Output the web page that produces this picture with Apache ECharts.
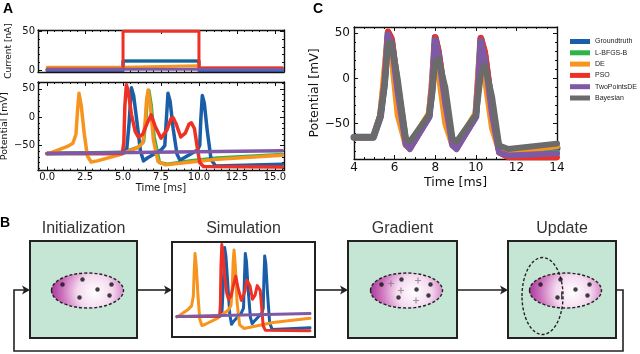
<!DOCTYPE html>
<html>
<head>
<meta charset="utf-8">
<script src="https://cdn.jsdelivr.net/npm/echarts@6/dist/echarts.min.js"></script>
<style>
html, body { margin: 0; padding: 0; background: #fff; }
#chart { width: 640px; height: 354px; }
</style>
</head>
<body>
<div id="chart"></div>
<script>
// ---- data ----
const methodNames = ['Groundtruth', 'L-BFGS-B', 'DE', 'PSO', 'TwoPointsDE', 'Bayesian']
const methodColors = ['#1b5ea8', '#2db34a', '#f7941d', '#ee3124', '#7e5aa6', '#6b6b6b']

// A: stimulus current [nA]
const curTime = [0, 5, 5, 10, 10, 15.5]
const curGroundtruth = [0, 0, 12, 12, 0, 0]
const curLbfgs = [0, 0, 12, 12, 0, 0]
const curDe = [4, 4, 6, 6, 3, 3]
const curPso = [1.5, 1.5, 50, 50, 3, 3]
const curTwoPoints = [1.5, 1.5, 1.5, 1.5, 1.5, 1.5]

// A: membrane potential [mV]
const aGroundtruthT = [0, 5.0, 5.25, 5.4, 5.55, 5.7, 5.9, 6.15, 6.35, 6.6, 7.5, 7.75, 7.85, 7.96, 8.1, 8.3, 8.55, 8.75, 9.0, 9.9, 10.05, 10.12, 10.22, 10.35, 10.55, 10.8, 11.1, 15.5]
const aGroundtruthV = [-64, -64, -55, -10, 52, 38, -5, -60, -77, -72, -58, -50, -5, 42, 28, -20, -65, -76, -72, -58, -50, -5, 38, 25, -25, -75, -86, -83]
const aLbfgsT = [0, 5.0, 6.0, 6.35, 6.5, 6.6, 6.7, 6.85, 7.05, 7.4, 7.9, 9.5, 11.2, 15.5]
const aLbfgsV = [-64, -62, -53, -43, -5, 35, 47, 22, -35, -80, -83, -77, -72, -66]
const aDeT = [0, 0.7, 1.3, 1.7, 1.9, 2.0, 2.1, 2.25, 2.45, 2.65, 2.9, 3.3, 4.7, 6.0, 6.3, 6.45, 6.55, 6.65, 6.8, 7.0, 7.3, 7.8, 9.5, 11.2, 15.5]
const aDeV = [-65, -58, -52, -46, -30, 10, 42, 20, -30, -68, -79, -77, -67, -53, -45, -10, 30, 48, 20, -40, -78, -84, -79, -74, -67]
const aPsoT = [0, 4.95, 5.05, 5.12, 5.22, 5.35, 5.55, 5.8, 6.0, 6.3, 6.6, 6.85, 7.1, 7.5, 7.9, 8.15, 8.3, 8.5, 8.8, 9.1, 9.35, 9.5, 9.7, 9.9, 10.05, 10.3, 15.5]
const aPsoV = [-64, -64, -45, 20, 57, 45, 5, -25, -35, -30, -10, 4, -15, -37, -22, -3, -1, -12, -35, -28, -12, -10, -20, -55, -80, -87, -88]
const aTwoPointsT = [0, 15.5]
const aTwoPointsV = [-64, -59]

// C: fitted traces [mV]
const cTime = [4.0, 4.95, 5.3, 5.5, 5.68, 5.85, 6.15, 6.55, 6.75, 7.7, 7.85, 8.0, 8.15, 8.5, 8.85, 9.05, 10.0, 10.12, 10.25, 10.45, 10.8, 11.15, 11.6, 14.0]
const cGroundtruth = [-65, -65, -42, -5, 50, 42, -10, -70, -76, -42, -10, 45, 30, -25, -72, -76, -42, -5, 44, 25, -35, -78, -82, -77]
const cLbfgs = [-65, -65, -42, -5, 49, 41, -10, -70, -76, -42, -10, 44, 30, -25, -72, -76, -42, -5, 43, 25, -35, -80, -85, -82]
const cDe = [-65, -65, -40, 10, 47, 25, -40, -74, -73, -38, 0, 40, 8, -50, -74, -73, -38, 5, 38, 0, -55, -80, -81, -75]
const cPso = [-65, -65, -42, -5, 52, 45, -5, -72, -78, -42, -8, 46, 32, -20, -73, -78, -42, -5, 45, 30, -30, -82, -87, -87]
const cTwoPoints = [-65, -65, -42, -5, 49, 40, -15, -73, -78, -43, -10, 43, 28, -28, -74, -78, -43, -8, 42, 22, -40, -82, -85, -83]
const cBayesian = [-65, -65, -40, -10, 38, 40, 0, -66, -70, -40, -18, 18, 22, -10, -66, -70, -40, -20, 5, 15, -20, -74, -78, -72]

// tick labels
const aTimeTicks = [0, 2.5, 5, 7.5, 10, 12.5, 15]
const aTimeMinor = [0.5, 1, 1.5, 2, 3, 3.5, 4, 4.5, 5.5, 6, 6.5, 7, 8, 8.5, 9, 9.5, 10.5, 11, 11.5, 12, 13, 13.5, 14, 14.5, 15.5]
const curTicks = [0, 50]
const curMinor = [10, 20, 30, 40]
const potTicks = [-50, 0, 50]
const potMinor = [-90, -80, -70, -60, -40, -30, -20, -10, 10, 20, 30, 40, 60]
const cTimeTicks = [4, 6, 8, 10, 12, 14]
const cTimeMinor = [4.5, 5, 5.5, 6.5, 7, 7.5, 8.5, 9, 9.5, 10.5, 11, 11.5, 12.5, 13, 13.5]

// B: schematic parameter clouds (box-local units, relative to the cloud centre)
const cloudEllipse = [[0, 0, 36, 17.5]]
const updateEllipse = [[-23, 5.5, 20.5, 38.5]]
const dotsX = [-25, -5, 10, 24, -8, 22]
const dotsY = [-6, -11, -1, -6, 7, 5]
const gradPlusX = [-15.5, 11.5, -5.5, 9.5]
const gradPlusY = [-7, -10, 0, 10]
const updateMarkX = [-3.8]
const updateMarkY = [5]

const zip = (a, b) => a.map((v, i) => [v, b[i]])

// ---- layout ----
const grids = []
const xAxes = []
const yAxes = []
const series = []
const frameColor = '#111'
const tickFont = 'DejaVu Sans'

function addGrid(g) {
	grids.push({ outerBoundsMode: 'none', ...g })
	return grids.length - 1
}

// matplotlib-like frame: axis with labels + minor ticks, opposite side ticks
function frameAxes(list, dim, gridIndex, c) {
	const sides = dim === 'x' ? ['bottom', 'top'] : ['left', 'right']
	const base = { gridIndex, type: 'value', min: c.min, max: c.max, splitLine: { show: false } }
	const first = list.length
	sides.forEach((pos, k) => {
		list.push({
			...base,
			position: pos,
			axisLine: { show: true, onZero: false, lineStyle: { color: frameColor, width: 1.4 } },
			axisTick: { show: true, inside: true, length: 4, customValues: c.majors, lineStyle: { color: frameColor, width: 1 } },
			axisLabel: k === 0 && c.labels
				? { show: true, customValues: c.majors, formatter: c.fmt, fontSize: c.fontSize, color: '#111', margin: c.margin, fontFamily: tickFont }
				: { show: false },
			name: k === 0 ? c.name || '' : '',
			nameLocation: 'middle',
			nameGap: c.nameGap,
			nameTextStyle: { fontSize: c.nameSize, color: '#111', fontFamily: tickFont },
		})
		list.push({
			...base,
			position: pos,
			axisLine: { show: false, onZero: false },
			axisTick: { show: true, inside: true, length: 2, customValues: c.minors, lineStyle: { color: frameColor, width: 1 } },
			axisLabel: { show: false },
		})
	})
	return first
}

const minusFmt = v => String(v).replace('-', '\u2212')

function lineSeries(name, idx, xi, yi, data, width, z) {
	return {
		type: 'line', name, xAxisIndex: xi, yAxisIndex: yi, data,
		showSymbol: false, symbol: 'none', z: z || 2, silent: true,
		color: methodColors[idx],
		lineStyle: { color: methodColors[idx], width, join: 'round', cap: 'round' },
	}
}

// --- A: current (green drawn first so it hides under the groundtruth)
const gCur = addGrid({ left: 38, top: 30, width: 246, height: 42 })
const xCur = frameAxes(xAxes, 'x', gCur, { min: -0.6, max: 15.6, majors: aTimeTicks, minors: aTimeMinor, labels: false })
const yCur = frameAxes(yAxes, 'y', gCur, {
	min: -2, max: 51.5, majors: curTicks, minors: curMinor, labels: true, fmt: minusFmt,
	fontSize: 10, margin: 3, name: 'Current [nA]', nameGap: 25, nameSize: 9,
})
const curSets = [[1, curLbfgs], [0, curGroundtruth], [2, curDe], [3, curPso], [4, curTwoPoints]]
curSets.forEach(([i, vals]) => series.push(lineSeries(methodNames[i], i, xCur, yCur, zip(curTime, vals), 3)))

// --- A: potential
const gPot = addGrid({ left: 38, top: 82, width: 246, height: 88.5 })
const xPot = frameAxes(xAxes, 'x', gPot, {
	min: -0.6, max: 15.6, majors: aTimeTicks, minors: aTimeMinor, labels: true,
	fmt: v => v.toFixed(1), fontSize: 10, margin: 2, name: 'Time [ms]', nameGap: 13, nameSize: 10,
})
const yPot = frameAxes(yAxes, 'y', gPot, {
	min: -94, max: 62, majors: potTicks, minors: potMinor, labels: true, fmt: minusFmt,
	fontSize: 10, margin: 3, name: 'Potential [mV]', nameGap: 25, nameSize: 9.5,
})
const aSets = [
	[1, aLbfgsT, aLbfgsV],
	[0, aGroundtruthT, aGroundtruthV],
	[2, aDeT, aDeV],
	[3, aPsoT, aPsoV],
	[4, aTwoPointsT, aTwoPointsV],
]
aSets.forEach(([i, t, v]) => series.push(lineSeries(methodNames[i], i, xPot, yPot, zip(t, v), 3.5)))

// --- C
const gC = addGrid({ left: 354, top: 27, width: 203, height: 132 })
const xC = frameAxes(xAxes, 'x', gC, {
	min: 4, max: 14, majors: cTimeTicks, minors: cTimeMinor, labels: true,
	fmt: v => String(v), fontSize: 12, margin: 3, name: 'Time [ms]', nameGap: 17, nameSize: 12.5,
})
const yC = frameAxes(yAxes, 'y', gC, {
	min: -89, max: 57, majors: potTicks, minors: potMinor, labels: true, fmt: minusFmt,
	fontSize: 12, margin: 4, name: 'Potential [mV]', nameGap: 32, nameSize: 12.5,
})
const cSets = [cGroundtruth, cLbfgs, cDe, cPso, cTwoPoints, cBayesian]
cSets.forEach((vals, i) => series.push(lineSeries(methodNames[i], i, xC, yC, zip(cTime, vals), i === 0 ? 7 : 6)))

// --- B: boxes
const boxFill = '#c6e6d5'
const boxes = [
	{ title: 'Initialization', left: 30, top: 241, width: 107, height: 97, cx: 57.5, bg: boxFill },
	{ title: 'Simulation', left: 172, top: 242, width: 143, height: 95, cx: 71.5, bg: '#fff' },
	{ title: 'Gradient', left: 348, top: 241, width: 109, height: 97, cx: 58.5, bg: boxFill },
	{ title: 'Update', left: 508, top: 241, width: 108, height: 97, cx: 57.5, bg: boxFill },
]
const boxAxes = boxes.map(b => {
	const gi = addGrid({
		left: b.left, top: b.top, width: b.width, height: b.height,
		show: true, backgroundColor: b.bg, borderColor: '#222', borderWidth: 2, z: 0,
	})
	xAxes.push({ gridIndex: gi, type: 'value', show: false, min: -b.cx, max: b.width - b.cx })
	yAxes.push({ gridIndex: gi, type: 'value', show: false, inverse: true, min: -49.5, max: b.height - 49.5 })
	return [xAxes.length - 1, yAxes.length - 1]
})

const cloudFill = {
	type: 'radial', x: 0.6, y: 0.55, r: 1.2,
	colorStops: [
		{ offset: 0, color: '#ffffff' },
		{ offset: 0.4, color: '#f4d9ef' },
		{ offset: 0.75, color: '#cc70bb' },
		{ offset: 1, color: '#a8399a' },
	],
}

function ellipseSeries(ax, data, fill, z) {
	return {
		type: 'custom', xAxisIndex: ax[0], yAxisIndex: ax[1], data, silent: true, z,
		renderItem(params, api) {
			const c = api.coord([api.value(0), api.value(1)])
			const s = api.size([api.value(2), api.value(3)])
			return {
				type: 'ellipse',
				shape: { cx: c[0], cy: c[1], rx: s[0], ry: s[1] },
				style: { fill, stroke: '#222', lineWidth: 1.4, lineDash: [3, 2] },
			}
		},
	}
}

function dotSeries(ax, xs, ys, opts) {
	return {
		type: 'scatter', xAxisIndex: ax[0], yAxisIndex: ax[1], silent: true, z: 4,
		data: zip(xs, ys), symbol: 'circle', symbolSize: 4.5,
		itemStyle: { color: '#111' }, ...opts,
	}
}

const plusPath = 'path://M2,0h1v2h2v1h-2v2h-1v-2h-2v-1h2z'
;[0, 2, 3].forEach(k => {
	series.push(ellipseSeries(boxAxes[k], cloudEllipse, cloudFill, 2))
	series.push(dotSeries(boxAxes[k], dotsX, dotsY))
})
series.push(dotSeries(boxAxes[2], gradPlusX, gradPlusY, { symbol: plusPath, symbolSize: 6, itemStyle: { color: '#8a7a88' } }))
series.push(ellipseSeries(boxAxes[3], updateEllipse, 'none', 3))
series.push(dotSeries(boxAxes[3], updateMarkX, updateMarkY, { symbol: 'rect', symbolSize: [1.3, 8] }))

// simulation thumbnail
const gSim = addGrid({ left: 177, top: 244, width: 133, height: 88 })
xAxes.push({ gridIndex: gSim, type: 'value', show: false, min: 0, max: 15.5 })
yAxes.push({ gridIndex: gSim, type: 'value', show: false, min: -90, max: 58 })
const xSim = xAxes.length - 1
const ySim = yAxes.length - 1
;[aSets[1], aSets[2], aSets[3], aSets[4]].forEach(([i, t, v]) =>
	series.push(lineSeries(methodNames[i], i, xSim, ySim, zip(t, v), 3, 3)))

// ---- annotations ----
const ink = '#222'
function label(text, x, y, font, fill) {
	return { type: 'text', silent: true, z: 10, style: { text, x, y, font, fill: fill || '#000', align: 'center', verticalAlign: 'middle' } }
}
function arrowHead(x, y) {
	return { type: 'polygon', silent: true, z: 10, shape: { points: [[x, y], [x - 8, y - 4.5], [x - 6, y], [x - 8, y + 4.5]] }, style: { fill: ink } }
}
function wire(points) {
	return { type: 'polyline', silent: true, z: 10, shape: { points }, style: { stroke: ink, lineWidth: 1.6, fill: null } }
}

const graphic = [
	label('A', 8, 9, 'bold 14px "Liberation Sans"'),
	label('C', 318, 9, 'bold 14px "Liberation Sans"'),
	label('B', 5, 223, 'bold 14px "Liberation Sans"'),
	...boxes.map(b => label(b.title, b.left + b.width / 2, 229, '16px "Liberation Sans"', '#333')),
	wire([[137, 290], [166, 290]]), arrowHead(172, 290),
	wire([[315, 290], [342, 290]]), arrowHead(348, 290),
	wire([[457, 290], [502, 290]]), arrowHead(508, 290),
	wire([[616, 290], [623, 290], [623, 351], [14, 351], [14, 290], [24, 290]]), arrowHead(30, 290),
]

const chart = echarts.init(document.getElementById('chart'), null, { renderer: 'canvas' })
chart.setOption({
	animation: false,
	backgroundColor: '#fff',
	grid: grids,
	xAxis: xAxes,
	yAxis: yAxes,
	legend: {
		data: methodNames,
		orient: 'vertical',
		left: 565,
		top: 32,
		itemWidth: 20,
		itemHeight: 5,
		itemGap: 2.3,
		icon: 'rect',
		selectedMode: false,
		textStyle: { fontSize: 7, lineHeight: 9, fontFamily: 'Liberation Sans', color: '#222' },
	},
	graphic,
	series,
})
</script>
</body>
</html>
